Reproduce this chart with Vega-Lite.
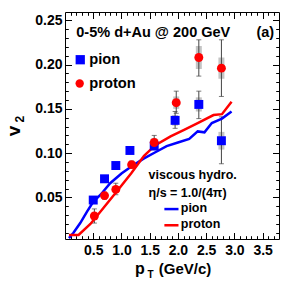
{
  "$schema": "https://vega.github.io/schema/vega-lite/v6.json",
  "width": 214,
  "height": 227,
  "autosize": "none",
  "padding": {"left": 65, "top": 12, "right": 20, "bottom": 51},
  "background": "white",
  "config": {
    "view": {"stroke": "black", "strokeWidth": 1},
    "font": "Liberation Sans",
    "axis": {"domain": false, "grid": false, "tickColor": "black", "tickWidth": 1, "labelColor": "black", "labelFont": "Liberation Sans", "labelFontWeight": "bold", "labelFontSize": 14, "labelOverlap": false, "labelFlush": false, "labelBound": false, "title": null}
  },
  "datasets": {
    "pts": [
      {"species": "pion", "pt": 0.5, "v2": 0.047, "stat_lo": 0.044, "stat_hi": 0.050, "sys_lo": 0.044, "sys_hi": 0.050},
      {"species": "pion", "pt": 0.7, "v2": 0.071, "stat_lo": 0.068, "stat_hi": 0.074, "sys_lo": 0.068, "sys_hi": 0.074},
      {"species": "pion", "pt": 0.9, "v2": 0.086, "stat_lo": 0.083, "stat_hi": 0.089, "sys_lo": 0.083, "sys_hi": 0.089},
      {"species": "pion", "pt": 1.15, "v2": 0.103, "stat_lo": 0.100, "stat_hi": 0.106, "sys_lo": 0.100, "sys_hi": 0.106},
      {"species": "pion", "pt": 1.58, "v2": 0.108, "stat_lo": 0.104, "stat_hi": 0.112, "sys_lo": 0.105, "sys_hi": 0.111},
      {"species": "pion", "pt": 1.95, "v2": 0.137, "stat_lo": 0.128, "stat_hi": 0.147, "sys_lo": 0.131, "sys_hi": 0.143},
      {"species": "pion", "pt": 2.37, "v2": 0.155, "stat_lo": 0.139, "stat_hi": 0.170, "sys_lo": 0.147, "sys_hi": 0.163},
      {"species": "pion", "pt": 2.77, "v2": 0.114, "stat_lo": 0.088, "stat_hi": 0.141, "sys_lo": 0.104, "sys_hi": 0.124},
      {"species": "proton", "pt": 0.52, "v2": 0.029, "stat_lo": 0.021, "stat_hi": 0.037, "sys_lo": 0.026, "sys_hi": 0.032},
      {"species": "proton", "pt": 0.7, "v2": 0.052, "stat_lo": 0.048, "stat_hi": 0.056, "sys_lo": 0.049, "sys_hi": 0.055},
      {"species": "proton", "pt": 0.9, "v2": 0.059, "stat_lo": 0.053, "stat_hi": 0.066, "sys_lo": 0.056, "sys_hi": 0.062},
      {"species": "proton", "pt": 1.18, "v2": 0.087, "stat_lo": 0.083, "stat_hi": 0.091, "sys_lo": 0.084, "sys_hi": 0.090},
      {"species": "proton", "pt": 1.58, "v2": 0.112, "stat_lo": 0.105, "stat_hi": 0.120, "sys_lo": 0.107, "sys_hi": 0.117},
      {"species": "proton", "pt": 1.97, "v2": 0.157, "stat_lo": 0.145, "stat_hi": 0.170, "sys_lo": 0.150, "sys_hi": 0.164},
      {"species": "proton", "pt": 2.37, "v2": 0.208, "stat_lo": 0.187, "stat_hi": 0.228, "sys_lo": 0.195, "sys_hi": 0.221},
      {"species": "proton", "pt": 2.77, "v2": 0.196, "stat_lo": 0.164, "stat_hi": 0.228, "sys_lo": 0.184, "sys_hi": 0.208}
    ],
    "curves": [
      {"model": "pion", "pt": 0.07, "v2": 0.004},
      {"model": "pion", "pt": 0.15, "v2": 0.010},
      {"model": "pion", "pt": 0.27, "v2": 0.021},
      {"model": "pion", "pt": 0.39, "v2": 0.034},
      {"model": "pion", "pt": 0.5, "v2": 0.045},
      {"model": "pion", "pt": 0.63, "v2": 0.053},
      {"model": "pion", "pt": 0.8, "v2": 0.066},
      {"model": "pion", "pt": 1.0, "v2": 0.077},
      {"model": "pion", "pt": 1.2, "v2": 0.086},
      {"model": "pion", "pt": 1.4, "v2": 0.094},
      {"model": "pion", "pt": 1.6, "v2": 0.101},
      {"model": "pion", "pt": 1.8, "v2": 0.108},
      {"model": "pion", "pt": 2.0, "v2": 0.112},
      {"model": "pion", "pt": 2.2, "v2": 0.116},
      {"model": "pion", "pt": 2.35, "v2": 0.1245},
      {"model": "pion", "pt": 2.47, "v2": 0.1235},
      {"model": "pion", "pt": 2.6, "v2": 0.134},
      {"model": "pion", "pt": 2.78, "v2": 0.139},
      {"model": "pion", "pt": 2.95, "v2": 0.147},
      {"model": "proton", "pt": 0.07, "v2": 0.0075},
      {"model": "proton", "pt": 0.24, "v2": 0.0075},
      {"model": "proton", "pt": 0.45, "v2": 0.020},
      {"model": "proton", "pt": 0.68, "v2": 0.038},
      {"model": "proton", "pt": 0.92, "v2": 0.057},
      {"model": "proton", "pt": 1.17, "v2": 0.077},
      {"model": "proton", "pt": 1.4, "v2": 0.097},
      {"model": "proton", "pt": 1.6, "v2": 0.109},
      {"model": "proton", "pt": 1.87, "v2": 0.119},
      {"model": "proton", "pt": 2.1, "v2": 0.126},
      {"model": "proton", "pt": 2.35, "v2": 0.134},
      {"model": "proton", "pt": 2.63, "v2": 0.143},
      {"model": "proton", "pt": 2.78, "v2": 0.144},
      {"model": "proton", "pt": 2.95, "v2": 0.158}
    ],
    "one": [{}]
  },
  "resolve": {"axis": {"x": "independent", "y": "independent"}},
  "layer": [
    {
      "data": {"name": "pts"},
      "mark": {"type": "rule", "strokeWidth": 6, "color": "#c4c4c4", "strokeCap": "butt"},
      "encoding": {
        "x": {"field": "pt", "type": "quantitative", "scale": {"domain": [0, 3.79], "nice": false, "zero": false},
          "axis": {"orient": "top", "labels": false, "values": [0.5,1.0,1.5,2.0,2.5,3.0,3.5], "tickSize": -6.5}},
        "y": {"field": "sys_lo", "type": "quantitative", "scale": {"domain": [0.003, 0.2594], "nice": false, "zero": false},
          "axis": {"orient": "right", "labels": false, "values": [0.05,0.10,0.15,0.20,0.25], "tickSize": -6.5}},
        "y2": {"field": "sys_hi"}
      }
    },
    {
      "data": {"name": "pts"},
      "mark": {"type": "rule", "strokeWidth": 1, "color": "#444444"},
      "encoding": {
        "x": {"field": "pt", "type": "quantitative",
          "axis": {"orient": "bottom", "values": [0.5,1.0,1.5,2.0,2.5,3.0,3.5], "format": ".1f", "labelPadding": 11, "tickSize": -6.5}},
        "y": {"field": "stat_lo", "type": "quantitative",
          "axis": {"orient": "left", "values": [0.05,0.10,0.15,0.20,0.25], "format": ".2f", "labelPadding": 9.5, "tickSize": -6.5}},
        "y2": {"field": "stat_hi"}
      }
    },
    {
      "data": {"name": "pts"},
      "mark": {"type": "tick", "orient": "horizontal", "size": 5, "thickness": 1, "color": "#444444"},
      "encoding": {
        "x": {"field": "pt", "type": "quantitative",
          "axis": {"orient": "bottom", "labels": false, "values": [0.1,0.2,0.3,0.4,0.6,0.7,0.8,0.9,1.1,1.2,1.3,1.4,1.6,1.7,1.8,1.9,2.1,2.2,2.3,2.4,2.6,2.7,2.8,2.9,3.1,3.2,3.3,3.4,3.6,3.7], "tickSize": -3.3}},
        "y": {"field": "stat_lo", "type": "quantitative",
          "axis": {"orient": "left", "labels": false, "values": [0.01,0.02,0.03,0.04,0.06,0.07,0.08,0.09,0.11,0.12,0.13,0.14,0.16,0.17,0.18,0.19,0.21,0.22,0.23,0.24], "tickSize": -3.3}}
      }
    },
    {
      "data": {"name": "pts"},
      "mark": {"type": "tick", "orient": "horizontal", "size": 5, "thickness": 1, "color": "#444444"},
      "encoding": {
        "x": {"field": "pt", "type": "quantitative",
          "axis": {"orient": "top", "labels": false, "values": [0.1,0.2,0.3,0.4,0.6,0.7,0.8,0.9,1.1,1.2,1.3,1.4,1.6,1.7,1.8,1.9,2.1,2.2,2.3,2.4,2.6,2.7,2.8,2.9,3.1,3.2,3.3,3.4,3.6,3.7], "tickSize": -3.3}},
        "y": {"field": "stat_hi", "type": "quantitative",
          "axis": {"orient": "right", "labels": false, "values": [0.01,0.02,0.03,0.04,0.06,0.07,0.08,0.09,0.11,0.12,0.13,0.14,0.16,0.17,0.18,0.19,0.21,0.22,0.23,0.24], "tickSize": -3.3}}
      }
    },
    {
      "data": {"name": "curves"},
      "mark": {"type": "line", "strokeWidth": 2.5},
      "encoding": {
        "x": {"field": "pt", "type": "quantitative", "axis": null},
        "y": {"field": "v2", "type": "quantitative", "axis": null},
        "color": {"field": "model", "type": "nominal", "scale": {"domain": ["pion", "proton"], "range": ["#0000ff", "#ff0000"]}, "legend": null}
      }
    },
    {
      "data": {"name": "pts"},
      "mark": {"type": "point", "filled": true, "opacity": 1, "size": 80},
      "encoding": {
        "x": {"field": "pt", "type": "quantitative", "axis": null},
        "y": {"field": "v2", "type": "quantitative", "axis": null},
        "shape": {"field": "species", "type": "nominal", "scale": {"domain": ["pion", "proton"], "range": ["square", "circle"]}, "legend": null},
        "color": {"field": "species", "type": "nominal", "legend": null}
      }
    },
    {
      "data": {"name": "one"},
      "mark": {"type": "text", "text": "0-5% d+Au @ 200 GeV", "align": "left", "baseline": "middle", "fontSize": 14.5, "fontWeight": "bold", "font": "Liberation Sans", "color": "black"},
      "encoding": {"x": {"datum": 0.20, "axis": null}, "y": {"datum": 0.2353, "axis": null}}
    },
    {
      "data": {"name": "one"},
      "mark": {"type": "text", "text": "(a)", "align": "left", "baseline": "middle", "fontSize": 14.5, "fontWeight": "bold", "font": "Liberation Sans", "color": "black"},
      "encoding": {"x": {"datum": 3.39, "axis": null}, "y": {"datum": 0.2353, "axis": null}}
    },
    {
      "data": {"name": "one"},
      "mark": {"type": "point", "shape": "square", "filled": true, "opacity": 1, "size": 86, "color": "#0000ff"},
      "encoding": {"x": {"datum": 0.27, "axis": null}, "y": {"datum": 0.2055, "axis": null}}
    },
    {
      "data": {"name": "one"},
      "mark": {"type": "text", "text": "pion", "align": "left", "baseline": "middle", "fontSize": 14.7, "fontWeight": "bold", "font": "Liberation Sans", "color": "black"},
      "encoding": {"x": {"datum": 0.43, "axis": null}, "y": {"datum": 0.2055, "axis": null}}
    },
    {
      "data": {"name": "one"},
      "mark": {"type": "point", "shape": "circle", "filled": true, "opacity": 1, "size": 70, "color": "#ff0000"},
      "encoding": {"x": {"datum": 0.26, "axis": null}, "y": {"datum": 0.1786, "axis": null}}
    },
    {
      "data": {"name": "one"},
      "mark": {"type": "text", "text": "proton", "align": "left", "baseline": "middle", "fontSize": 14.7, "fontWeight": "bold", "font": "Liberation Sans", "color": "black"},
      "encoding": {"x": {"datum": 0.43, "axis": null}, "y": {"datum": 0.1786, "axis": null}}
    },
    {
      "data": {"name": "one"},
      "mark": {"type": "text", "text": "viscous hydro.", "align": "left", "baseline": "middle", "fontSize": 12.5, "fontWeight": "bold", "font": "Liberation Sans", "color": "black"},
      "encoding": {"x": {"datum": 1.48, "axis": null}, "y": {"datum": 0.0752, "axis": null}}
    },
    {
      "data": {"name": "one"},
      "mark": {"type": "text", "text": "η/s = 1.0/(4π)", "align": "left", "baseline": "middle", "fontSize": 12.5, "fontWeight": "bold", "font": "Liberation Sans", "color": "black"},
      "encoding": {"x": {"datum": 1.48, "axis": null}, "y": {"datum": 0.0545, "axis": null}}
    },
    {
      "data": {"name": "one"},
      "mark": {"type": "rule", "strokeWidth": 2.5, "color": "#0000ff"},
      "encoding": {"x": {"datum": 1.76, "axis": null}, "x2": {"datum": 2.01}, "y": {"datum": 0.0368, "axis": null}}
    },
    {
      "data": {"name": "one"},
      "mark": {"type": "text", "text": "pion", "align": "left", "baseline": "middle", "fontSize": 12.5, "fontWeight": "bold", "font": "Liberation Sans", "color": "black"},
      "encoding": {"x": {"datum": 2.05, "axis": null}, "y": {"datum": 0.0376, "axis": null}}
    },
    {
      "data": {"name": "one"},
      "mark": {"type": "rule", "strokeWidth": 2.5, "color": "#ff0000"},
      "encoding": {"x": {"datum": 1.76, "axis": null}, "x2": {"datum": 2.01}, "y": {"datum": 0.0185, "axis": null}}
    },
    {
      "data": {"name": "one"},
      "mark": {"type": "text", "text": "proton", "align": "left", "baseline": "middle", "fontSize": 12.5, "fontWeight": "bold", "font": "Liberation Sans", "color": "black"},
      "encoding": {"x": {"datum": 2.05, "axis": null}, "y": {"datum": 0.0199, "axis": null}}
    },
    {
      "data": {"name": "one"},
      "mark": {"type": "text", "text": "v", "angle": 270, "align": "center", "baseline": "middle", "fontSize": 19, "fontWeight": "bold", "font": "Liberation Sans", "color": "black"},
      "encoding": {"x": {"datum": -0.90, "axis": null}, "y": {"datum": 0.1251, "axis": null}}
    },
    {
      "data": {"name": "one"},
      "mark": {"type": "text", "text": "2", "angle": 270, "align": "center", "baseline": "middle", "fontSize": 12, "fontWeight": "bold", "font": "Liberation Sans", "color": "black"},
      "encoding": {"x": {"datum": -0.80, "axis": null}, "y": {"datum": 0.1383, "axis": null}}
    },
    {
      "data": {"name": "one"},
      "mark": {"type": "text", "text": "p", "align": "left", "baseline": "alphabetic", "fontSize": 16, "fontWeight": "bold", "font": "Liberation Sans", "color": "black"},
      "encoding": {"x": {"datum": 1.24, "axis": null}, "y": {"datum": -0.0365, "axis": null}}
    },
    {
      "data": {"name": "one"},
      "mark": {"type": "text", "text": "T", "align": "left", "baseline": "alphabetic", "fontSize": 10, "fontWeight": "bold", "font": "Liberation Sans", "color": "black"},
      "encoding": {"x": {"datum": 1.46, "axis": null}, "y": {"datum": -0.0415, "axis": null}}
    },
    {
      "data": {"name": "one"},
      "mark": {"type": "text", "text": "(GeV/c)", "align": "left", "baseline": "alphabetic", "fontSize": 15, "fontWeight": "bold", "font": "Liberation Sans", "color": "black"},
      "encoding": {"x": {"datum": 1.66, "axis": null}, "y": {"datum": -0.0365, "axis": null}}
    }
  ]
}
